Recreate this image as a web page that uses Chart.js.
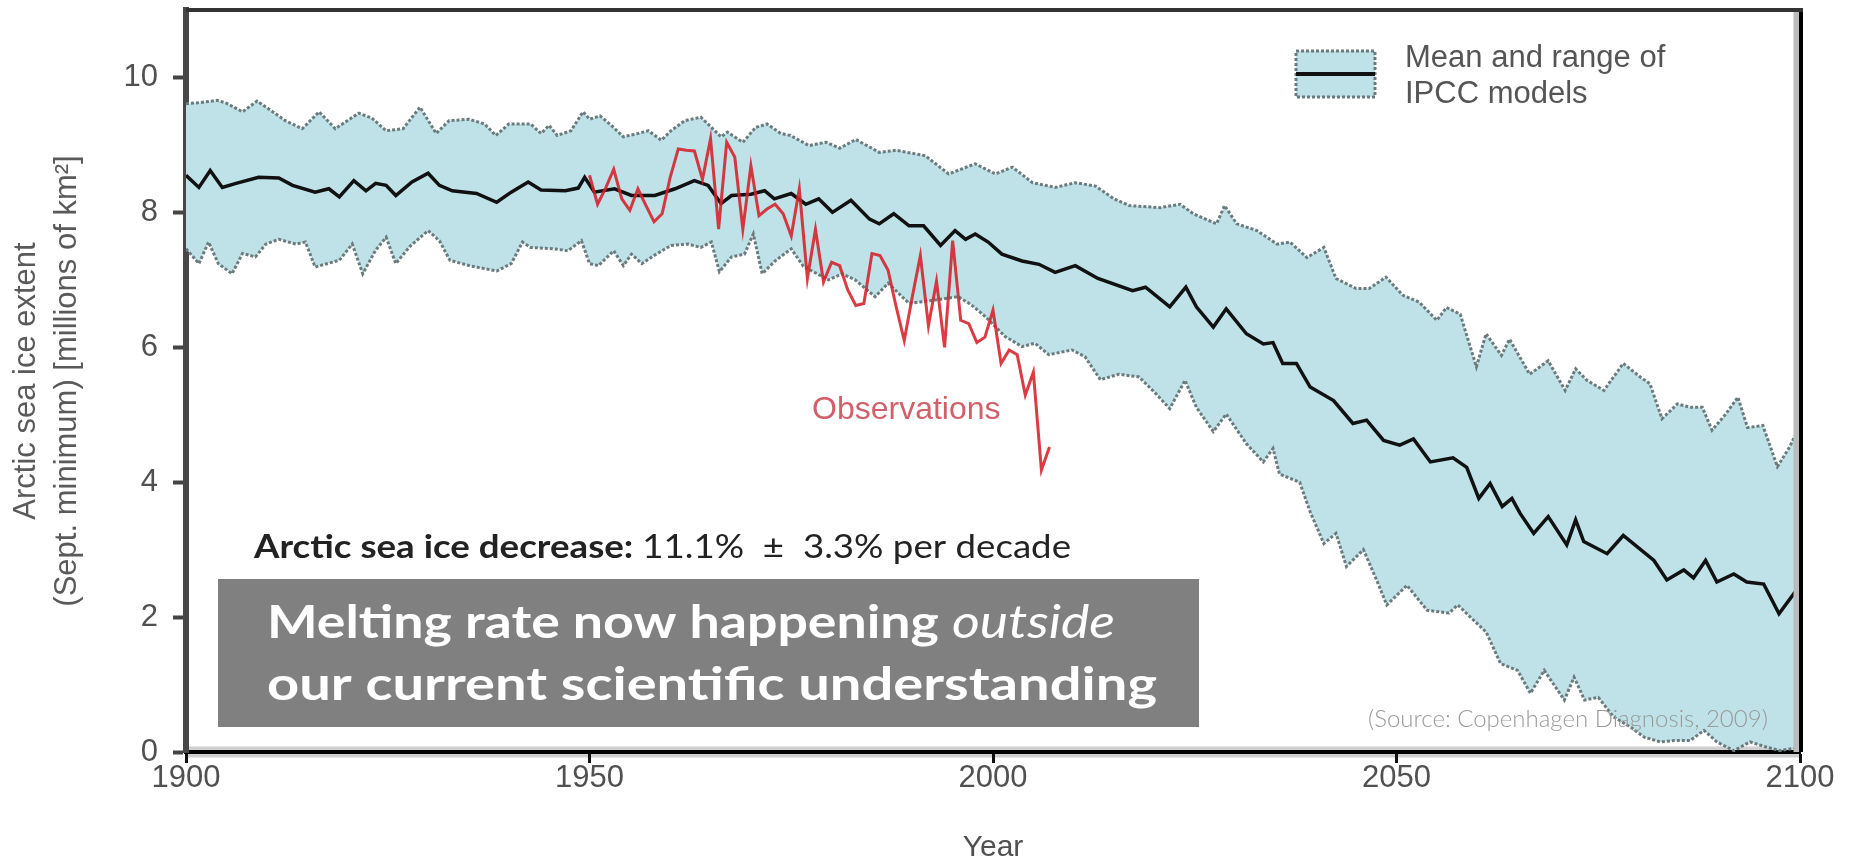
<!DOCTYPE html>
<html>
<head>
<meta charset="utf-8">
<script src="https://cdn.jsdelivr.net/npm/chart.js@4.4.1/dist/chart.umd.min.js"></script>
<style>
  html, body { margin: 0; padding: 0; background: #fff; }
</style>
</head>
<body>
<canvas id="myChart" width="1852" height="863"></canvas>
<script>
// model mean (black line)
var meanYears = [1900, 1901.6, 1903, 1904.5, 1906.2, 1909, 1911.5, 1913.2, 1916, 1917.7, 1919, 1920.8, 1922.3, 1923.5, 1924.8, 1926, 1928, 1930, 1931.4, 1933, 1936, 1938.5, 1940.3, 1942.4, 1944, 1947, 1948.6, 1949.4, 1950.6, 1953.1, 1955.2, 1958.1, 1960.6, 1963, 1964.7, 1966.3, 1967.6, 1970, 1971.7, 1972.9, 1975, 1976.8, 1978.4, 1980.1, 1982.4, 1984.7, 1985.9, 1987.7, 1989.6, 1991.4, 1993.5, 1995.3, 1996.6, 1997.8, 1999.4, 2001.1, 2003.6, 2005.7, 2007.7, 2010.2, 2013, 2017.3, 2018.9, 2021.9, 2023.9, 2025.2, 2027.3, 2028.9, 2031.4, 2033.5, 2034.7, 2035.9, 2037.6, 2039.3, 2042.2, 2044.6, 2046.3, 2048.4, 2050.4, 2052.1, 2054.2, 2057, 2058.7, 2060.2, 2061.6, 2063.1, 2064.3, 2065.3, 2067, 2068.8, 2071.1, 2072.2, 2073.2, 2076.1, 2078.1, 2081.9, 2083.5, 2085.6, 2086.8, 2088.3, 2089.7, 2091.8, 2093.4, 2095.5, 2097.4, 2100];
var meanVals = [8.55, 8.37, 8.62, 8.37, 8.43, 8.52, 8.51, 8.40, 8.30, 8.35, 8.23, 8.47, 8.32, 8.43, 8.40, 8.25, 8.45, 8.58, 8.40, 8.32, 8.28, 8.15, 8.30, 8.45, 8.33, 8.32, 8.36, 8.52, 8.30, 8.35, 8.25, 8.25, 8.35, 8.47, 8.40, 8.13, 8.25, 8.27, 8.32, 8.20, 8.28, 8.12, 8.20, 8.00, 8.18, 7.90, 7.83, 7.98, 7.80, 7.80, 7.51, 7.73, 7.60, 7.68, 7.56, 7.38, 7.28, 7.23, 7.11, 7.21, 7.02, 6.84, 6.89, 6.60, 6.89, 6.60, 6.30, 6.57, 6.20, 6.05, 6.07, 5.76, 5.76, 5.41, 5.21, 4.87, 4.92, 4.62, 4.55, 4.64, 4.30, 4.36, 4.22, 3.76, 3.98, 3.64, 3.76, 3.54, 3.24, 3.49, 3.07, 3.44, 3.12, 2.94, 3.21, 2.84, 2.55, 2.70, 2.58, 2.84, 2.52, 2.64, 2.52, 2.49, 2.05, 2.47];

// top of model range
var upperYears = [1900, 1901.9, 1903.9, 1905, 1907, 1908.8, 1910.3, 1912.3, 1914.4, 1916.5, 1918.5, 1921.4, 1923, 1924.8, 1926.9, 1929, 1931, 1932.6, 1935.1, 1937, 1938.4, 1940, 1942.7, 1944, 1945, 1946, 1947.7, 1949.2, 1950, 1951.3, 1952.7, 1954.2, 1956, 1957.3, 1958.9, 1960.1, 1961.8, 1963.8, 1965.1, 1966.3, 1967.1, 1969, 1970.6, 1972, 1973.7, 1974.9, 1977.2, 1979.3, 1981, 1983, 1985.9, 1988, 1991.6, 1994.5, 1997.8, 2000.3, 2002.4, 2004.9, 2007.7, 2010.2, 2012.7, 2015, 2016.9, 2020.7, 2023.2, 2024.8, 2027.7, 2028.7, 2030.2, 2032.7, 2035.2, 2036.8, 2038.9, 2041, 2042.5, 2045, 2046.6, 2048.7, 2050.8, 2052.8, 2055, 2056.2, 2057.9, 2059.9, 2061.1, 2063, 2064, 2066.5, 2068.8, 2070.9, 2072.2, 2073.6, 2075.7, 2078.1, 2080.2, 2081.4, 2082.9, 2084.8, 2086.4, 2087.9, 2089.1, 2090.8, 2092.3, 2093.5, 2095.4, 2097.2, 2098.7, 2100];
var upperVals = [9.61, 9.63, 9.66, 9.62, 9.49, 9.65, 9.53, 9.36, 9.24, 9.49, 9.24, 9.47, 9.40, 9.21, 9.24, 9.56, 9.17, 9.36, 9.38, 9.31, 9.14, 9.31, 9.31, 9.17, 9.29, 9.14, 9.21, 9.49, 9.38, 9.43, 9.29, 9.12, 9.17, 9.21, 9.07, 9.21, 9.36, 9.41, 9.26, 9.12, 9.19, 9.04, 9.26, 9.31, 9.17, 9.14, 8.99, 9.04, 8.95, 9.08, 8.89, 8.92, 8.84, 8.57, 8.72, 8.57, 8.67, 8.44, 8.37, 8.44, 8.39, 8.20, 8.10, 8.07, 8.12, 7.98, 7.83, 8.10, 7.83, 7.73, 7.53, 7.56, 7.33, 7.48, 7.02, 6.87, 6.87, 7.04, 6.77, 6.67, 6.40, 6.59, 6.49, 5.71, 6.20, 5.88, 6.12, 5.60, 5.80, 5.36, 5.68, 5.51, 5.36, 5.76, 5.56, 5.46, 4.94, 5.16, 5.11, 5.11, 4.77, 5.01, 5.26, 4.81, 4.84, 4.23, 4.52, 4.84];

// bottom of model range
var lowerYears = [1900, 1901.6, 1902.8, 1904, 1905.7, 1907, 1908.6, 1909.9, 1911.5, 1913.6, 1914.8, 1916, 1919, 1920.6, 1921.9, 1923.5, 1924.8, 1926, 1927.7, 1930, 1931.4, 1932.7, 1935.1, 1938.5, 1940.3, 1941.7, 1942.7, 1945.6, 1947.3, 1949, 1950, 1951.1, 1953, 1954.2, 1955.2, 1956.5, 1958, 1960.1, 1962.2, 1963.8, 1965.1, 1966.1, 1967.6, 1969.2, 1970.3, 1971.4, 1973, 1975, 1976.5, 1979.6, 1981.3, 1982.9, 1985.4, 1987, 1989.6, 1992.8, 1995.7, 1997.3, 1999, 2001.5, 2003.6, 2005.2, 2006.9, 2009.8, 2011.4, 2013.3, 2015.6, 2018.1, 2020.2, 2021.9, 2023.8, 2025.2, 2027.3, 2028.9, 2031.4, 2033.5, 2034.7, 2035.5, 2038, 2039.3, 2041, 2042.5, 2043.8, 2045.9, 2047.5, 2048.8, 2051.3, 2053.8, 2056.5, 2057.6, 2059.5, 2061.1, 2062.9, 2065, 2066.6, 2068.3, 2070.8, 2072, 2073.3, 2075, 2076.9, 2079, 2080.7, 2082.7, 2084.4, 2086.4, 2088.1, 2089.7, 2091.8, 2093.8, 2095.9, 2097.5, 2100];
var lowerVals = [7.46, 7.24, 7.56, 7.24, 7.09, 7.39, 7.34, 7.53, 7.60, 7.53, 7.56, 7.19, 7.29, 7.53, 7.09, 7.44, 7.63, 7.24, 7.49, 7.73, 7.58, 7.29, 7.21, 7.13, 7.24, 7.56, 7.48, 7.46, 7.43, 7.58, 7.24, 7.21, 7.43, 7.21, 7.38, 7.24, 7.36, 7.51, 7.53, 7.48, 7.56, 7.12, 7.34, 7.38, 7.68, 7.09, 7.28, 7.46, 7.20, 7.00, 7.09, 7.00, 6.75, 6.95, 6.65, 6.70, 6.75, 6.63, 6.46, 6.16, 6.01, 6.06, 5.89, 5.96, 5.86, 5.52, 5.60, 5.56, 5.31, 5.09, 5.51, 5.11, 4.75, 5.01, 4.57, 4.30, 4.50, 4.12, 4.00, 3.56, 3.09, 3.24, 2.75, 3.00, 2.56, 2.18, 2.47, 2.10, 2.06, 2.18, 1.96, 1.78, 1.31, 1.21, 0.87, 1.21, 0.77, 1.11, 0.77, 0.81, 0.52, 0.37, 0.22, 0.15, 0.17, 0.17, 0.32, 0.15, 0.02, 0.15, 0.07, 0.02, 0.07];

// observations (red line)
var obsYears = [1950, 1951, 1952, 1953, 1954, 1955, 1956, 1957, 1958, 1959, 1960, 1961, 1962, 1963, 1964, 1965, 1966, 1967, 1968, 1969, 1970, 1971, 1972, 1973, 1974, 1975, 1976, 1977, 1978, 1979, 1980, 1981, 1982, 1983, 1984, 1985, 1986, 1987, 1988, 1989, 1990, 1991, 1992, 1993, 1994, 1995, 1996, 1997, 1998, 1999, 2000, 2001, 2002, 2003, 2004, 2005, 2006, 2007];
var obsVals = [8.55, 8.12, 8.36, 8.64, 8.20, 8.03, 8.35, 8.10, 7.86, 7.98, 8.52, 8.94, 8.92, 8.91, 8.49, 9.09, 7.75, 9.04, 8.82, 7.75, 8.69, 7.95, 8.05, 8.12, 7.98, 7.65, 8.35, 7.02, 7.75, 6.97, 7.26, 7.21, 6.85, 6.62, 6.65, 7.39, 7.36, 7.14, 6.60, 6.10, 6.75, 7.36, 6.32, 6.98, 6.00, 7.58, 6.40, 6.35, 6.07, 6.15, 6.55, 5.76, 5.96, 5.89, 5.29, 5.63, 4.18, 4.52];

var xTicks = [1900, 1950, 2000, 2050, 2100];
var yTicks = [0, 2, 4, 6, 8, 10];

var bandColor = '#bee2e8';
var edgeColor = '#6b7b7d';

function pts(xs, ys) {
    return xs.map(function (x, i) { return { x: x, y: ys[i] }; });
}

// draw runs of [font, text] squeezed or stretched to a given width
function fitText(ctx, parts, x, y, width) {
    var total = 0;
    parts.forEach(function (p) { ctx.font = p[0]; total += ctx.measureText(p[1]).width; });
    ctx.save();
    ctx.translate(x, y);
    ctx.scale(width / total, 1);
    var cx = 0;
    parts.forEach(function (p) {
        ctx.font = p[0];
        ctx.fillText(p[1], cx, 0);
        cx += ctx.measureText(p[1]).width;
    });
    ctx.restore();
}

var frame = {
    id: 'frame',
    beforeDraw: function (chart) {
        var ctx = chart.ctx, a = chart.chartArea;
        ctx.save();
        ctx.fillStyle = '#fff';
        ctx.fillRect(0, 0, chart.width, chart.height);
        ctx.strokeStyle = '#cfcfcf';
        ctx.lineWidth = 11;
        ctx.beginPath();
        ctx.moveTo(a.left, a.bottom);
        ctx.lineTo(a.right, a.bottom);
        ctx.stroke();
        ctx.restore();
    },
    afterDatasetsDraw: function (chart) {
        var ctx = chart.ctx, a = chart.chartArea;
        ctx.save();
        ctx.strokeStyle = '#bbbbbb';
        ctx.lineWidth = 9;
        ctx.beginPath();
        ctx.moveTo(a.right - 2, a.top);
        ctx.lineTo(a.right - 2, a.bottom);
        ctx.stroke();
        ctx.strokeStyle = '#000';
        ctx.lineWidth = 4;
        ctx.beginPath();
        ctx.moveTo(a.right + 1, a.top - 2);
        ctx.lineTo(a.right + 1, a.bottom);
        ctx.stroke();
        ctx.strokeStyle = '#333';
        ctx.beginPath();
        ctx.moveTo(a.left, a.top);
        ctx.lineTo(a.right + 3, a.top);
        ctx.stroke();
        ctx.restore();
    }
};

var notes = {
    id: 'notes',
    afterDraw: function (chart) {
        var ctx = chart.ctx;
        ctx.save();

        // legend
        ctx.fillStyle = bandColor;
        ctx.fillRect(1296, 51, 79, 46);
        ctx.strokeStyle = edgeColor;
        ctx.lineWidth = 3;
        ctx.setLineDash([3, 2]);
        ctx.strokeRect(1296, 51, 79, 46);
        ctx.setLineDash([]);
        ctx.strokeStyle = '#111';
        ctx.lineWidth = 4;
        ctx.beginPath();
        ctx.moveTo(1296, 74);
        ctx.lineTo(1375, 74);
        ctx.stroke();
        ctx.fillStyle = '#555';
        ctx.font = '31px "Liberation Sans", Arial, sans-serif';
        ctx.textBaseline = 'alphabetic';
        ctx.fillText('Mean and range of', 1405, 67);
        ctx.fillText('IPCC models', 1405, 103);

        // observations label
        ctx.fillStyle = '#d2606a';
        ctx.font = '32px "Liberation Sans", Arial, sans-serif';
        ctx.fillText('Observations', 812, 419);

        // decrease rate
        ctx.fillStyle = '#222';
        fitText(ctx, [
            ['bold 32px Lato, sans-serif', 'Arctic sea ice decrease: '],
            ['32px Lato, sans-serif', '11.1%  \u00b1  3.3% per decade']
        ], 254, 558, 817);

        // grey box
        ctx.fillStyle = '#808080';
        ctx.fillRect(218, 579, 981, 148);
        ctx.fillStyle = '#fff';
        fitText(ctx, [
            ['bold 46px Lato, sans-serif', 'Melting rate now happening '],
            ['italic 46px Lato, sans-serif', 'outside']
        ], 267, 638, 848);
        fitText(ctx, [
            ['bold 46px Lato, sans-serif', 'our current scientific understanding']
        ], 267, 700, 890);

        // source
        ctx.fillStyle = '#9a9a9a';
        ctx.font = '300 24px Lato, sans-serif';
        ctx.fillText('(Source: Copenhagen Diagnosis, 2009)', 1368, 727);

        ctx.restore();
    }
};

var ctx = document.getElementById('myChart').getContext('2d');
var chart = new Chart(ctx, {
    type: 'line',
    data: {
        datasets: [
            {
                label: 'Observations',
                data: pts(obsYears, obsVals),
                borderColor: 'rgba(214,32,40,0.88)',
                borderWidth: 3,
                fill: false
            },
            {
                label: 'Mean of IPCC models',
                data: pts(meanYears, meanVals),
                borderColor: '#111',
                borderWidth: 3.5,
                fill: false
            },
            {
                label: 'Upper range',
                data: pts(upperYears, upperVals),
                borderColor: edgeColor,
                borderWidth: 3,
                borderDash: [3, 2],
                backgroundColor: bandColor,
                fill: '+1'
            },
            {
                label: 'Lower range',
                data: pts(lowerYears, lowerVals),
                borderColor: edgeColor,
                borderWidth: 3,
                borderDash: [3, 2],
                fill: false
            }
        ]
    },
    options: {
        responsive: false,
        animation: false,
        layout: {
            padding: { left: 0, right: 52, top: 10, bottom: 0 }
        },
        elements: {
            line: { tension: 0 },
            point: { radius: 0 }
        },
        plugins: {
            legend: { display: false },
            tooltip: { enabled: false },
            filler: { drawTime: 'beforeDatasetsDraw' }
        },
        scales: {
            x: {
                type: 'linear',
                min: 1900,
                max: 2100,
                afterBuildTicks: function (scale) {
                    scale.ticks = xTicks.map(function (v) { return { value: v }; });
                },
                afterFit: function (scale) {
                    scale.height = 111;
                    scale.paddingLeft = 0;
                    scale.paddingRight = 0;
                },
                ticks: {
                    color: '#505050',
                    padding: 0,
                    maxRotation: 0,
                    font: { family: '"Liberation Sans", Arial, sans-serif', size: 31, lineHeight: 1 },
                    callback: function (v) { return String(v); }
                },
                grid: {
                    drawOnChartArea: false,
                    tickLength: 11,
                    tickWidth: 3,
                    tickColor: '#111'
                },
                border: { color: '#000', width: 4 },
                title: {
                    display: true,
                    text: 'Year',
                    color: '#505050',
                    padding: { top: 0, bottom: 0 },
                    font: { family: '"Liberation Sans", Arial, sans-serif', size: 30, lineHeight: 1 }
                }
            },
            y: {
                min: 0,
                max: 11,
                afterBuildTicks: function (scale) {
                    scale.ticks = yTicks.map(function (v) { return { value: v }; });
                },
                afterFit: function (scale) {
                    scale.width = 186;
                    scale.paddingTop = 0;
                    scale.paddingBottom = 0;
                },
                ticks: {
                    color: '#505050',
                    padding: 15,
                    font: { family: '"Liberation Sans", Arial, sans-serif', size: 31, lineHeight: 1 }
                },
                grid: {
                    drawOnChartArea: false,
                    tickLength: 13,
                    tickWidth: 4,
                    tickColor: '#444'
                },
                border: { color: '#474747', width: 6 },
                title: {
                    display: true,
                    text: ['Arctic sea ice extent', '(Sept. minimum) [millions of km\u00b2]'],
                    color: '#5a5a5a',
                    padding: { top: 6, bottom: 0 },
                    font: { family: '"Liberation Sans", Arial, sans-serif', size: 31, lineHeight: 1.32 }
                }
            }
        }
    },
    plugins: [frame, notes]
});
</script>
</body>
</html>
